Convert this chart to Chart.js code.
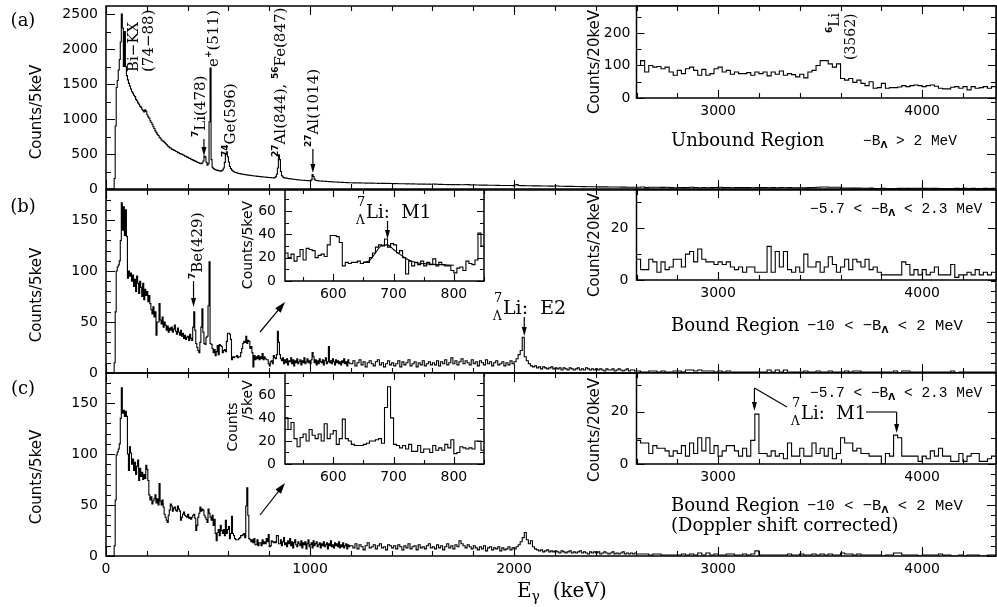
<!DOCTYPE html>
<html>
<head>
<meta charset="utf-8">
<script src="https://cdn.jsdelivr.net/npm/chart.js@4.4.1/dist/chart.umd.min.js"></script>
<style>
  html, body { margin: 0; padding: 0; background: #fff; }
  #wrap { position: relative; width: 997px; height: 607px; overflow: hidden; }
  #wrap canvas { position: absolute; left: 0; top: 0; }
</style>
</head>
<body>
<div id="wrap"></div>
<script>
// ---- data ----
// panel (a): counts / 5 keV, 5 keV bins from 0 to 1195 keV
const A_LOW = [
  0,0,0,0,0,0,0,0,150,900,1450,1550,1700,1850,2100,2500,2300,1750,2250,1750,
  1620,1560,1510,1470,1430,1390,1370,1340,1320,1280,1260,1230,1210,1180,1170,1140,1120,1100,1130,1110,
  1060,1030,1010,975,950,925,890,865,830,805,780,765,740,725,700,690,680,665,650,635,
  615,605,590,585,570,565,555,550,540,535,520,518,505,500,498,490,482,470,468,455,
  452,440,438,425,420,412,405,398,392,380,378,372,366,362,372,400,470,455,382,340,
  360,960,1730,420,310,292,280,276,270,266,262,258,255,262,272,300,380,500,530,460,
  385,322,292,270,257,246,240,236,230,226,222,219,214,212,210,207,205,203,200,198,
  196,195,192,190,189,186,185,184,181,180,178,177,175,173,172,171,169,168,166,165,
  164,163,160,161,158,163,176,210,300,490,420,250,190,171,163,158,155,153,150,148,
  147,144,143,140,139,136,135,132,131,128,128,126,125,124,123,122,121,120,119,118,
  118,131,205,178,141,126,121,118,116,115,114,113,112,111,110,109,108,107,106,105,
  104,103,102,101,100,100,99,98,97,96,96,95,94,93,93,92,91,90,90,89
];
// 10 keV bins from 1200 to 2590 keV
const A_TAIL = [
  89,87,88,86,87,85,86,84,85,83,84,82,83,81,82,80,81,79,80,78,
  79,77,78,76,76,75,75,73,74,72,73,71,72,70,71,69,70,68,69,67,
  72,70,67,66,66,65,65,63,64,62,63,61,62,60,61,60,64,62,59,58,
  60,58,57,56,56,55,55,54,54,53,53,52,52,51,51,50,50,49,49,48,
  58,62,50,48,48,47,47,46,46,45,45,44,44,43,43,42,42,41,41,40,
  46,42,40,39,39,38,38,37,37,36,36,35,35,34,34,33,33,33,32,32,
  32,31,31,30,30,30,29,29,29,28,28,28,27,27,27,26,26,26,25,25
];
// 20 keV bins from 2600 to 4340 keV
const A_FAR = [
  25,28,20,25,24,24,23,24,20,18, 21,19,22,24,21,18,22,18,19,22,
  24,20,21,18,20,19,19,20,18,20, 19,20,17,20,18,21,18,19,18,16,
  18,16,20,21,25,29,29,26,24,26, 15,14,15,12,14,11,10,12,8,8,
  11,8,8,8,9,10,9,10,10,10, 9,10,10,9,8,7,7,8,9,8,
  9,6,9,8,8,9,8,9
];
// inset (a): counts / 20 keV, 20 keV bins from 2600 keV
const A_RIGHT = [
  100,115,80,100,95,97,90,95,80,70, 85,75,90,95,85,70,88,70,75,90,
  95,80,85,73,80,75,75,78,70,80, 75,80,68,80,73,83,70,75,72,65,
  73,62,80,85,100,115,115,105,95,105, 60,55,60,48,55,45,38,50,30,32,
  45,30,32,32,34,38,35,38,40,38, 35,38,40,36,30,28,28,33,35,30,
  35,25,35,30,32,35,30,35
];

// panel (b): 5 keV bins 0-515, 520-845 (zoom inset), 850-1195; 10 keV 1200-2590; 20 keV 2600-4340
const B_HEAD = [
  0,0,0,0,0,0,0,0,10,60,100,104,106,110,130,167,140,163,135,160,
  134,93,100,95,98,90,96,85,92,80,95,88,78,90,84,75,88,72,82,76,
  80,70,76,68,62,58,65,55,60,37,50,50,68,52,48,55,45,50,47,42,
  46,40,44,42,45,40,43,47,41,38,44,40,37,42,36,39,34,37,33,35,
  36,32,38,34,32,45,60,42,29,25,22,20,30,45,63,40,29,28,35,36,
  66,109,29,28
];
const B_ZOOM = [
  24,20,23,17,21,27,18,28,27,26, 20,22,23,21,31,39,39,38,33,13,
  16,15,16,16,17,15,16,16,20,24, 29,31,30,36,29,32,31,24,26,20,
  6,17,13,16,14,17,13,16,14,19, 13,16,14,13,13,9,7,11,12,9,
  17,15,14,18,41,30
];
const B_MID = [
  18,14,12,15,9,13,10,14,8,12,11,15,9,13,7,12,10,14,9,11,
  13,8,12,10,15,9,11,14,10,12,9,13,20,16,10,13,8,12,9,14,
  11,10,13,8,12,15,9,11,26,10,12,9,14,11,8,13,10,12,9,11,
  8,12,10,14,9,11,7,13,10,9
];
const B_TAIL = [
  9,12,7,10,13,8,11,6,10,12,9,7,11,13,8,10,6,9,12,8,
  10,7,9,12,6,11,8,10,13,7,9,11,6,10,8,12,7,9,11,8,
  10,8,12,7,11,9,13,8,10,15,9,12,8,11,14,9,12,10,8,13,
  9,11,7,12,10,8,13,9,11,7,10,12,8,9,11,7,10,8,12,9,
  11,14,18,22,35,16,12,9,7,6,7,5,6,4,6,5,4,5,6,4,
  5,4,5,3,5,4,3,5,4,3,4,5,3,4,3,5,4,3,4,3,
  4,3,4,3,2,4,3,3,4,2,3,4,3,2,3,4,2,3,3,2
];
const B_FAR = [
  2,1,1,2,2,1,2,1,1,2, 2,1,3,3,2,3,2,2,2,1, 2,1,2,1,1,1,1,1,1,1,
  1,1,3,1,3,1,3,1,1,1, 1,2,1,1,2,1,1,2,1,1, 1,2,1,2,2,1,1,1,1,1,
  1,1,1,2,0,2,2,1,1,1, 1,1,1,1,1,1,1,2,0,1, 1,1,1,1,1,1,1,1
];
const B_RIGHT = [
  8,4,4,8,7,3,7,4,5,8, 8,5,10,11,7,12,8,7,7,6,
  7,6,7,5,4,5,3,5,5,3, 3,3,13,3,11,5,11,4,3,5,
  3,10,5,5,7,3,5,9,6,3, 5,8,4,8,7,5,8,4,5,3,
  2,2,2,2,2,7,6,2,4,2, 4,2,3,5,2,2,2,6,1,2,
  2,3,2,4,2,3,2,3
];
// fitted curve in the (b) zoom inset
const FIT_E = [650,660,670,680,690,700,710,720,730,740,760,780,800];
const FIT_C = [16,17.5,24,30.5,31,27,23,19.5,17,15.5,14.5,14,13.5];

// panel (c), same binning as (b)
const C_HEAD = [
  0,0,0,0,0,0,0,0,10,55,99,102,105,110,135,165,140,143,137,142,
  137,100,84,107,101,90,95,84,92,80,88,94,74,86,78,82,75,80,76,89,
  85,74,60,55,58,51,54,56,60,52,56,50,71,54,50,55,48,41,38,35,
  33,40,45,51,49,44,47,48,45,44,49,46,44,35,38,41,43,40,39,38,
  41,37,38,36,38,40,41,37,25,30,38,42,48,44,46,45,40,38,36,33,
  46,42,38,35
];
const C_ZOOM = [
  40,30,36,22,15,23,26,20,30,25, 22,26,20,35,22,26,29,17,22,39,
  22,20,17,16,16,16,17,18,20,20, 21,22,18,49,67,40,17,16,14,16,
  13,17,11,11,16,10,13,13,10,16, 12,14,12,17,14,21,9,10,15,14,
  13,14,13,20,20,12
];
const C_MID = [
  12,16,10,14,18,11,13,9,15,12,17,10,14,8,13,16,11,9,14,12,
  10,15,8,13,11,14,7,12,16,9,11,13,8,15,10,12,14,9,11,13,
  8,12,10,14,9,11,13,7,12,10,15,9,11,8,13,10,12,9,14,8,
  11,9,13,8,10,12,7,11,9,10
];
const C_TAIL = [
  10,8,12,7,11,9,6,10,13,8,9,11,7,10,12,8,9,6,11,10,
  8,10,7,11,9,6,10,8,12,7,9,10,6,11,8,9,7,10,12,8,
  9,7,11,8,10,6,9,12,8,10,7,11,9,15,12,10,8,11,9,7,
  10,8,6,9,7,10,5,8,9,6,8,7,9,5,8,6,7,9,6,8,
  7,9,11,14,18,23,16,12,15,9,7,6,5,6,4,5,6,4,5,4,
  5,4,3,5,4,3,4,5,3,4,3,4,5,3,4,3,2,4,3,4,
  3,4,2,3,4,3,2,3,4,2,3,2,3,4,2,3,2,3,2,3
];
const C_FAR = [
  2,2,2,1,2,2,1,1,1,1, 1,2,1,2,1,3,1,3,1,2, 1,1,2,2,1,1,2,1,2,5,
  1,1,1,1,1,1,1,2,1,1, 2,1,1,2,1,2,1,2,1,1, 3,2,2,1,2,1,1,1,1,1,
  0,1,1,3,3,1,1,1,1,0, 1,1,1,1,2,1,1,0,0,1, 0,1,1,1,0,0,1,1
];
const C_RIGHT = [
  9,8,8,4,7,6,6,5,3,5, 4,7,3,8,4,10,5,10,4,7,
  3,5,7,7,5,3,6,3,9,19, 4,4,3,5,3,4,2,8,3,3,
  6,3,3,8,4,6,3,6,2,4, 10,8,8,5,6,4,4,3,3,3,
  0,4,3,11,10,3,3,3,3,1, 3,2,5,3,6,3,3,1,1,4,
  1,3,4,4,1,1,2,3
];

// tick labels
const MAIN_X_LABELS = [0, 1000, 2000, 3000, 4000];
const RIGHT_X_LABELS = [3000, 4000];
const ZOOM_X_LABELS = [600, 700, 800];
const A_Y_LABELS = [0, 500, 1000, 1500, 2000, 2500];
const BC_Y_LABELS = [0, 50, 100, 150];
const A_RIGHT_Y_LABELS = [0, 100, 200];
const BC_RIGHT_Y_LABELS = [0, 20];
const ZOOM_Y_LABELS = [0, 20, 40, 60];

// ---- helpers ----
const W = 997, H = 607;
const SERIF = '"DejaVu Serif", serif';
const SANS = '"DejaVu Sans", sans-serif';
const MONO = '14.5px "Liberation Mono", monospace';
const MONO_B = '15.5px "Liberation Mono", monospace';
const SUP = 'bold 9px ' + SANS;
const SUBL = 'bold 9px ' + SANS;
const ROT = -Math.PI / 2;
const wrap = document.getElementById('wrap');

function bins(start, width, counts) {
  return counts.map((c, i) => ({ x: start + i * width, y: c }));
}
function closeHist(pts, end) {
  pts.push({ x: end, y: pts[pts.length - 1].y });
  return pts;
}

function label(ctx, s, x, y, font, align, rot) {
  ctx.save();
  ctx.translate(x, y);
  if (rot) ctx.rotate(rot);
  ctx.font = font;
  ctx.fillStyle = '#000';
  ctx.textAlign = align || 'center';
  ctx.textBaseline = 'middle';
  ctx.fillText(s, 0, 0);
  ctx.restore();
}
function rich(ctx, x, y, parts, rot) {
  ctx.save();
  ctx.translate(x, y);
  if (rot) ctx.rotate(rot);
  ctx.fillStyle = '#000';
  ctx.textBaseline = 'alphabetic';
  ctx.textAlign = 'left';
  let cx = 0;
  for (const p of parts) {
    ctx.font = p.f;
    ctx.fillText(p.t, cx, p.dy || 0);
    if (!p.stay) cx += ctx.measureText(p.t).width;
  }
  ctx.restore();
}
function arrow(ctx, x1, y1, x2, y2, hl, hw) {
  const a = Math.atan2(y2 - y1, x2 - x1);
  ctx.save();
  ctx.strokeStyle = '#000';
  ctx.fillStyle = '#000';
  ctx.lineWidth = 1.2;
  ctx.beginPath();
  ctx.moveTo(x1, y1);
  ctx.lineTo(x2 - Math.cos(a) * hl * 0.7, y2 - Math.sin(a) * hl * 0.7);
  ctx.stroke();
  ctx.beginPath();
  ctx.moveTo(x2, y2);
  ctx.lineTo(x2 - hl * Math.cos(a) + hw * Math.sin(a), y2 - hl * Math.sin(a) - hw * Math.cos(a));
  ctx.lineTo(x2 - hl * Math.cos(a) - hw * Math.sin(a), y2 - hl * Math.sin(a) + hw * Math.cos(a));
  ctx.closePath();
  ctx.fill();
  ctx.restore();
}
function poly(ctx, pts) {
  ctx.save();
  ctx.strokeStyle = '#000';
  ctx.lineWidth = 1.1;
  ctx.beginPath();
  pts.forEach((p, i) => i ? ctx.lineTo(p[0], p[1]) : ctx.moveTo(p[0], p[1]));
  ctx.stroke();
  ctx.restore();
}
function cutText(ctx, y) {
  rich(ctx, 810, y + 5, [
    { t: '\u22125.7 < \u2212B', f: MONO }, { t: '\u039B', f: SUBL, dy: 3 }, { t: ' < 2.3 MeV', f: MONO }
  ]);
}
function boundText(ctx, y) {
  rich(ctx, 671, y + 6, [{ t: 'Bound Region', f: '18px ' + SERIF }]);
  rich(ctx, 807, y + 5, [
    { t: '\u221210 < \u2212B', f: MONO_B }, { t: '\u039B', f: SUBL, dy: 3 }, { t: ' < 2 MeV', f: MONO_B }
  ]);
}
function lambdaLi(ctx, x, yBase, text, size) {
  rich(ctx, x - 9, yBase - 12, [{ t: '7', f: '13px ' + SERIF }]);
  rich(ctx, x - 10, yBase + 6, [{ t: '\u039B', f: '12px ' + SERIF }]);
  rich(ctx, x, yBase, [{ t: text, f: size + 'px ' + SERIF }]);
}

// frame with inward ticks on all four sides, drawn through the chart's scales
function framePlugin(o) {
  return {
    id: 'frame',
    beforeDraw(chart) {
      if (!o.white) return;
      const a = chart.chartArea, ctx = chart.ctx;
      ctx.save();
      ctx.fillStyle = '#fff';
      ctx.fillRect(a.left, a.top, a.right - a.left, a.bottom - a.top);
      ctx.restore();
    },
    afterDatasetsDraw(chart) {
      const a = chart.chartArea, ctx = chart.ctx;
      const xs = chart.scales.x, ys = chart.scales.y;
      ctx.save();
      ctx.strokeStyle = '#000';
      ctx.lineWidth = 1.1;
      ctx.beginPath();
      for (let v = Math.ceil(xs.min / o.xMinor) * o.xMinor; v <= xs.max; v += o.xMinor) {
        const p = Math.round(xs.getPixelForValue(v)) + 0.5;
        const len = v % o.xMajor === 0 ? o.major : o.minor;
        ctx.moveTo(p, a.bottom); ctx.lineTo(p, a.bottom - len);
        ctx.moveTo(p, a.top); ctx.lineTo(p, a.top + len);
      }
      for (let v = Math.ceil(ys.min / o.yMinor) * o.yMinor; v <= ys.max; v += o.yMinor) {
        const p = Math.round(ys.getPixelForValue(v)) + 0.5;
        const len = v % o.yMajor === 0 ? o.major : o.minor;
        ctx.moveTo(a.left, p); ctx.lineTo(a.left + len, p);
        ctx.moveTo(a.right, p); ctx.lineTo(a.right - len, p);
      }
      ctx.stroke();
      ctx.lineWidth = 1.5;
      ctx.strokeRect(a.left, a.top, a.right - a.left, a.bottom - a.top);
      ctx.restore();
    }
  };
}

function makeChart(cfg) {
  const canvas = document.createElement('canvas');
  canvas.width = W;
  canvas.height = H;
  wrap.appendChild(canvas);
  const b = cfg.box;
  const yW = cfg.yW, xH = cfg.xLabels ? 24 : 0;
  const zeroPad = s => { s.paddingTop = 0; s.paddingBottom = 0; s.paddingLeft = 0; s.paddingRight = 0; };
  const datasets = cfg.series.map(s => ({
    data: s.data,
    borderColor: '#000',
    borderWidth: s.width || 1.1,
    pointRadius: 0,
    fill: false,
    stepped: s.smooth ? false : true,
    tension: s.smooth ? 0.4 : 0,
    cubicInterpolationMode: s.smooth ? 'monotone' : 'default'
  }));
  return new Chart(canvas, {
    type: 'line',
    data: { datasets },
    options: {
      responsive: false,
      animation: false,
      events: [],
      layout: { padding: { left: b.l - yW, top: b.t, right: W - b.r, bottom: H - b.b - xH } },
      plugins: { legend: { display: false }, tooltip: { enabled: false } },
      scales: {
        x: {
          type: 'linear', min: cfg.x[0], max: cfg.x[1],
          grid: { display: false, drawTicks: false }, border: { display: false },
          ticks: {
            display: !!cfg.xLabels, autoSkip: false, maxRotation: 0,
            padding: 5, color: '#000', font: { family: SANS, size: 14 },
            callback: v => String(v)
          },
          afterBuildTicks: s => { s.ticks = (cfg.xLabels || [cfg.x[0]]).map(v => ({ value: v })); },
          afterFit: s => { s.height = xH; zeroPad(s); }
        },
        y: {
          type: 'linear', min: 0, max: cfg.y,
          grid: { display: false, drawTicks: false }, border: { display: false },
          ticks: {
            padding: cfg.yPad, color: '#000', font: { family: SANS, size: 14 },
            callback: v => String(v)
          },
          afterBuildTicks: s => { s.ticks = cfg.yLabels.map(v => ({ value: v })); },
          afterFit: s => { s.width = yW; zeroPad(s); }
        }
      }
    },
    plugins: [
      framePlugin(cfg.frame),
      { id: 'notes', afterDraw(chart) { if (cfg.notes) cfg.notes(chart.ctx, chart); } }
    ]
  });
}

// ---- series ----
const seriesA = closeHist([].concat(bins(0, 5, A_LOW), bins(1200, 10, A_TAIL), bins(2600, 20, A_FAR)), 4360);
const seriesB = closeHist([].concat(bins(0, 5, B_HEAD), bins(520, 5, B_ZOOM), bins(850, 5, B_MID),
  bins(1200, 10, B_TAIL), bins(2600, 20, B_FAR)), 4360);
const seriesC = closeHist([].concat(bins(0, 5, C_HEAD), bins(520, 5, C_ZOOM), bins(850, 5, C_MID),
  bins(1200, 10, C_TAIL), bins(2600, 20, C_FAR)), 4360);
const fitB = FIT_E.map((e, i) => ({ x: e, y: FIT_C[i] }));

const mainFrameA = { xMinor: 200, xMajor: 1000, yMinor: 250, yMajor: 500, major: 9, minor: 5 };
const mainFrameBC = { xMinor: 200, xMajor: 1000, yMinor: 10, yMajor: 50, major: 9, minor: 5 };
const rightFrame = (yMinor, yMajor) => ({ white: true, xMinor: 200, xMajor: 1000, yMinor, yMajor, major: 8, minor: 5 });
const zoomFrame = { white: true, xMinor: 50, xMajor: 100, yMinor: 10, yMajor: 20, major: 7, minor: 4 };

// ---- main panels ----
makeChart({
  box: { l: 106, r: 996, t: 6, b: 189 }, x: [0, 4362], y: 2615,
  yLabels: A_Y_LABELS, yW: 60, yPad: 8, frame: mainFrameA,
  series: [{ data: seriesA }],
  notes(ctx, ch) {
    const xs = ch.scales.x;
    const f = '15px ' + SERIF;
    label(ctx, '(a)', 23, 21, '18px ' + SERIF);
    label(ctx, 'Counts/5keV', 37, 112, '15px ' + SANS, 'center', ROT);
    rich(ctx, 138, 72, [{ t: 'Bi\u2212KX', f }], ROT);
    rich(ctx, 153, 72, [{ t: '(74\u221288)', f }], ROT);
    rich(ctx, 218, 67, [{ t: 'e', f }, { t: '+', f: SUP, dy: -7 }, { t: '(511)', f }], ROT);
    rich(ctx, 205, 137, [{ t: '7', f: SUP, dy: -7 }, { t: 'Li(478)', f }], ROT);
    arrow(ctx, xs.getPixelForValue(480), 139, xs.getPixelForValue(480), 156, 9, 2.5);
    rich(ctx, 235, 157, [{ t: '74', f: SUP, dy: -7 }, { t: 'Ge(596)', f }], ROT);
    rich(ctx, 285, 157, [{ t: '27', f: SUP, dy: -7 }, { t: 'Al(844), ', f }, { t: '56', f: SUP, dy: -7 }, { t: 'Fe(847)', f }], ROT);
    rich(ctx, 318, 147, [{ t: '27', f: SUP, dy: -7 }, { t: 'Al(1014)', f }], ROT);
    arrow(ctx, xs.getPixelForValue(1014), 149, xs.getPixelForValue(1014), 173, 9, 2.5);
  }
});

makeChart({
  box: { l: 106, r: 996, t: 190, b: 373 }, x: [0, 4362], y: 179.5,
  yLabels: BC_Y_LABELS, yW: 60, yPad: 8, frame: mainFrameBC,
  series: [{ data: seriesB }],
  notes(ctx, ch) {
    const xs = ch.scales.x;
    label(ctx, '(b)', 23, 207, '18px ' + SERIF);
    label(ctx, 'Counts/5keV', 37, 295, '15px ' + SANS, 'center', ROT);
    rich(ctx, 202, 279, [{ t: '7', f: SUP, dy: -7 }, { t: 'Be(429)', f: '15px ' + SERIF }], ROT);
    arrow(ctx, xs.getPixelForValue(429), 281, xs.getPixelForValue(429), 307, 9, 2.5);
    arrow(ctx, 260, 332, 285, 302, 11, 3.5);
    lambdaLi(ctx, 503, 314, 'Li:  E2', 19);
    arrow(ctx, xs.getPixelForValue(2050), 317, xs.getPixelForValue(2050), 336, 9, 2.5);
    boundText(ctx, 325);
  }
});

makeChart({
  box: { l: 106, r: 996, t: 373, b: 556 }, x: [0, 4362], y: 179.5,
  yLabels: BC_Y_LABELS, yW: 60, yPad: 8, frame: mainFrameBC, xLabels: MAIN_X_LABELS,
  series: [{ data: seriesC }],
  notes(ctx) {
    label(ctx, '(c)', 23, 389, '18px ' + SERIF);
    label(ctx, 'Counts/5keV', 37, 477, '15px ' + SANS, 'center', ROT);
    arrow(ctx, 260, 515, 285, 483, 11, 3.5);
    boundText(ctx, 505);
    rich(ctx, 671, 531, [{ t: '(Doppler shift corrected)', f: '18px ' + SERIF }]);
    rich(ctx, 517, 597, [{ t: 'E', f: '20px ' + SERIF }, { t: '\u03B3', f: '14px ' + SERIF, dy: 4 }, { t: '  (keV)', f: '20px ' + SERIF }]);
  }
});

// ---- insets ----
makeChart({
  box: { l: 636.5, r: 996, t: 6, b: 98 }, x: [2600, 4362], y: 283,
  yLabels: A_RIGHT_Y_LABELS, yW: 45, yPad: 6, frame: rightFrame(50, 100), xLabels: RIGHT_X_LABELS,
  series: [{ data: closeHist(bins(2600, 20, A_RIGHT), 4360) }],
  notes(ctx) {
    rich(ctx, 839, 33, [{ t: '6', f: SUP, dy: -7 }, { t: 'Li', f: '14px ' + SERIF }], ROT);
    rich(ctx, 855, 60, [{ t: '(3562)', f: '14px ' + SERIF }], ROT);
    rich(ctx, 671, 146, [{ t: 'Unbound Region', f: '18px ' + SERIF }]);
    rich(ctx, 863, 145, [{ t: '\u2212B', f: MONO }, { t: '\u039B', f: SUBL, dy: 3 }, { t: ' > 2 MeV', f: MONO }]);
    label(ctx, 'Counts/20keV', 595, 62, '15px ' + SANS, 'center', ROT);
  }
});

makeChart({
  box: { l: 285, r: 484, t: 190, b: 281 }, x: [520, 850], y: 78,
  yLabels: ZOOM_Y_LABELS, yW: 40, yPad: 9, frame: zoomFrame, xLabels: ZOOM_X_LABELS,
  series: [{ data: closeHist(bins(520, 5, B_ZOOM), 850) }, { data: fitB, smooth: true, width: 1.1 }],
  notes(ctx, ch) {
    const xs = ch.scales.x;
    lambdaLi(ctx, 366, 218, 'Li:  M1', 18);
    arrow(ctx, xs.getPixelForValue(690), 221, xs.getPixelForValue(690), 239, 9, 2.5);
    label(ctx, 'Counts/5keV', 248, 245, '14px ' + SANS, 'center', ROT);
  }
});

makeChart({
  box: { l: 636.5, r: 996, t: 190, b: 280 }, x: [2600, 4362], y: 34.8,
  yLabels: BC_RIGHT_Y_LABELS, yW: 45, yPad: 8, frame: rightFrame(10, 20), xLabels: RIGHT_X_LABELS,
  series: [{ data: closeHist(bins(2600, 20, B_RIGHT), 4360) }],
  notes(ctx) {
    cutText(ctx, 208);
    label(ctx, 'Counts/20keV', 595, 245, '15px ' + SANS, 'center', ROT);
  }
});

makeChart({
  box: { l: 285, r: 484, t: 373, b: 464 }, x: [520, 850], y: 79,
  yLabels: ZOOM_Y_LABELS, yW: 40, yPad: 9, frame: zoomFrame, xLabels: ZOOM_X_LABELS,
  series: [{ data: closeHist(bins(520, 5, C_ZOOM), 850) }],
  notes(ctx) {
    label(ctx, 'Counts', 233, 427, '14px ' + SANS, 'center', ROT);
    label(ctx, '/5keV', 248, 400, '14px ' + SANS, 'center', ROT);
  }
});

makeChart({
  box: { l: 636.5, r: 996, t: 373, b: 464 }, x: [2600, 4362], y: 34.7,
  yLabels: BC_RIGHT_Y_LABELS, yW: 45, yPad: 8, frame: rightFrame(10, 20), xLabels: RIGHT_X_LABELS,
  series: [{ data: closeHist(bins(2600, 20, C_RIGHT), 4360) }],
  notes(ctx, ch) {
    const xs = ch.scales.x;
    const m1a = xs.getPixelForValue(3178), m1b = xs.getPixelForValue(3875);
    cutText(ctx, 392);
    lambdaLi(ctx, 801, 419, 'Li:  M1', 18);
    poly(ctx, [[787, 407], [m1a, 388]]);
    arrow(ctx, m1a, 388, m1a, 411, 9, 2.5);
    poly(ctx, [[866, 412], [m1b, 412]]);
    arrow(ctx, m1b, 412, m1b, 433, 9, 2.5);
    label(ctx, 'Counts/20keV', 595, 430, '15px ' + SANS, 'center', ROT);
  }
});
</script>
</body>
</html>
